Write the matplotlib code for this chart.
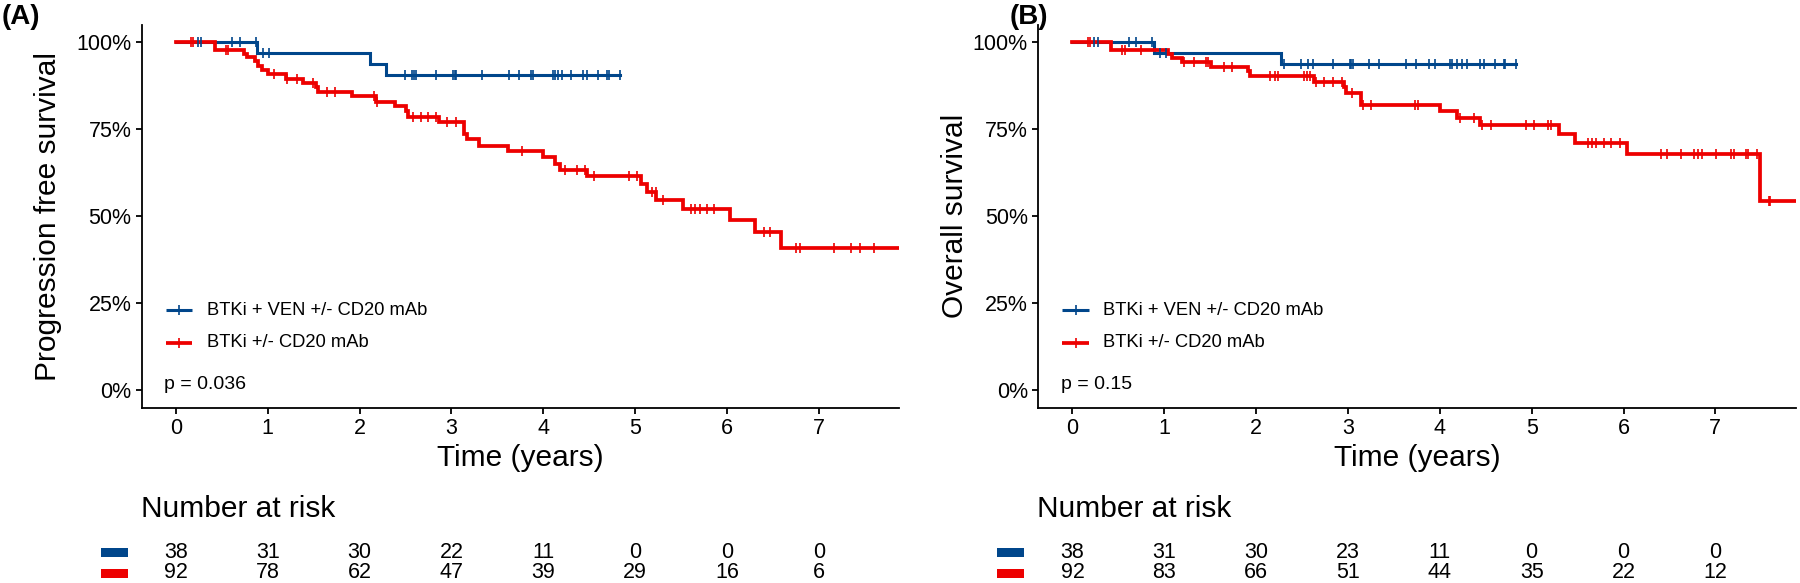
import numpy as np
import matplotlib
matplotlib.use('Agg')
import matplotlib.pyplot as plt
from matplotlib.patches import Rectangle
from matplotlib.transforms import blended_transform_factory

plt.rcParams['font.family'] = ['Liberation Sans', 'DejaVu Sans']

BLUE = '#00468B'
RED = '#ED0000'

group_names = ['BTKi + VEN +/- CD20 mAb', 'BTKi +/- CD20 mAb']
risk_times = [0, 1, 2, 3, 4, 5, 6, 7]

# panel A: progression free survival
pfs_ven_times = [0.88, 2.11, 2.285]
pfs_ven_surv = [0.970, 0.938, 0.906]
pfs_ven_end = 4.835
pfs_ven_cens = [0.236, 0.279, 0.609, 0.696, 0.870, 0.954, 1.016, 2.492, 2.568, 2.594,
                2.619, 2.829, 3.021, 3.036, 3.054, 3.333, 3.624, 3.736, 3.870, 3.892,
                4.106, 4.128, 4.160, 4.200, 4.298, 4.432, 4.479, 4.595, 4.690, 4.715, 4.835]

pfs_btk_times = [0.424, 0.744, 0.780, 0.860, 0.889, 0.936, 1.005, 1.197, 1.385, 1.523,
                 1.549, 1.923, 2.176, 2.386, 2.503, 2.532, 2.865, 3.138, 3.167, 3.301,
                 3.620, 3.995, 4.130, 4.186, 4.472, 5.067, 5.132, 5.227, 5.524, 6.039,
                 6.311, 6.591]
pfs_btk_surv = [0.977, 0.967, 0.957, 0.946, 0.933, 0.921, 0.909, 0.895, 0.884, 0.871,
                0.858, 0.845, 0.830, 0.816, 0.802, 0.786, 0.771, 0.738, 0.723, 0.703,
                0.687, 0.670, 0.651, 0.634, 0.615, 0.593, 0.571, 0.547, 0.521, 0.490,
                0.456, 0.409]
pfs_btk_end = 7.95
pfs_btk_cens = [0.17, 0.19, 0.544, 0.573, 1.07, 1.215, 1.324, 1.498, 1.65, 1.734, 2.158,
                2.195, 2.586, 2.666, 2.749, 2.829, 2.957, 3.047, 3.772, 4.237, 4.371,
                4.45, 4.552, 4.933, 5.016, 5.187, 5.223, 5.306, 5.604, 5.658, 5.702,
                5.785, 5.857, 6.402, 6.474, 6.757, 6.801, 7.171, 7.352, 7.446, 7.598]

pfs_risk_ven = [38, 31, 30, 22, 11, 0, 0, 0]
pfs_risk_btk = [92, 78, 62, 47, 39, 29, 16, 6]

# panel B: overall survival
os_ven_times = [0.888, 2.275]
os_ven_surv = [0.970, 0.938]
os_ven_end = 4.833
os_ven_cens = [0.235, 0.279, 0.613, 0.697, 0.867, 0.958, 1.016, 2.304, 2.493, 2.565,
               2.619, 2.837, 3.019, 3.037, 3.055, 3.226, 3.338, 3.628, 3.737, 3.879,
               3.952, 4.107, 4.133, 4.187, 4.242, 4.300, 4.434, 4.481, 4.597, 4.695,
               4.714, 4.833]

os_btk_times = [0.424, 1.041, 1.089, 1.197, 1.506, 1.912, 1.937, 2.631, 2.953, 2.975,
                3.146, 3.998, 4.187, 4.434, 5.297, 5.468, 6.042, 7.490]
os_btk_surv = [0.977, 0.966, 0.955, 0.943, 0.930, 0.917, 0.903, 0.887, 0.871, 0.855,
               0.819, 0.802, 0.783, 0.762, 0.738, 0.712, 0.680, 0.544]
os_btk_end = 7.95
os_btk_cens = [0.17, 0.19, 0.544, 0.569, 0.751, 1.212, 1.324, 1.459, 1.476, 1.647, 1.738,
               2.155, 2.202, 2.242, 2.518, 2.554, 2.591, 2.656, 2.743, 2.837, 2.932,
               3.048, 3.164, 3.247, 3.726, 3.762, 4.224, 4.372, 4.459, 4.554, 4.935,
               5.022, 5.178, 5.214, 5.613, 5.661, 5.704, 5.787, 5.868, 5.966, 6.412,
               6.477, 6.630, 6.767, 6.811, 6.858, 7.011, 7.174, 7.202, 7.337, 7.355,
               7.453, 7.580, 7.599]

os_risk_ven = [38, 31, 30, 23, 11, 0, 0, 0]
os_risk_btk = [92, 83, 66, 51, 44, 35, 22, 12]

W, H = 1800, 583


def surv_at(times, surv, t):
    idx = np.searchsorted(np.array(times), t, side='right')
    vals = np.r_[1.0, surv]
    return vals[idx]


def draw_curve(ax, times, surv, end, cens, color, lw):
    x = np.r_[0, times, end]
    y = np.r_[1.0, surv, surv[-1]]
    ax.step(x, y, where='post', color=color, lw=lw, solid_joinstyle='miter', zorder=3)
    cens = np.array(cens)
    ax.plot(cens, surv_at(times, surv, cens), ls='none', marker='|', ms=7.5,
            mew=1.2, color=color, zorder=4)


def km_panel(fig, spine_px, letter_px, letter, ylabel, ylab_x, pval, ven, btk, risk_ven, risk_btk):
    ax = fig.add_axes([spine_px / W, 1 - 407.7 / H, 757.4 / W, 382.7 / H])
    draw_curve(ax, *ven, BLUE, 2.2)
    draw_curve(ax, *btk, RED, 2.7)

    ax.set_xlim(-0.372, 7.875)
    ax.set_ylim(-0.05, 1.05)
    ax.set_xticks(risk_times)
    ax.set_yticks([0, 0.25, 0.5, 0.75, 1.0])
    ax.set_yticklabels(['0%', '25%', '50%', '75%', '100%'])
    for s in ['top', 'right']:
        ax.spines[s].set_visible(False)
    for s in ['left', 'bottom']:
        ax.spines[s].set_linewidth(1.3)
    ax.tick_params(labelsize=15.5, width=1.3, length=4.5, pad=3)
    ax.set_xlabel('Time (years)', fontsize=21.5, va='center')
    ax.xaxis.set_label_coords(0.5, -0.131)
    ax.set_ylabel(ylabel, fontsize=21.5, va='center')
    ax.yaxis.set_label_coords(ylab_x, 0.5)

    # legend inside the panel
    for yy, color, lw, name in [(0.23, BLUE, 2.2, group_names[0]), (0.137, RED, 2.7, group_names[1])]:
        ax.plot([-0.11, 0.18], [yy, yy], color=color, lw=lw, solid_capstyle='butt')
        ax.plot([0.035], [yy], marker='|', ms=7.5, mew=1.2, color=color)
        ax.text(0.337, yy, name, fontsize=13.2, va='center', ha='left')
    ax.text(-0.127, 0.017, pval, fontsize=14, va='center', ha='left')

    fig.text(letter_px / W, 1 - 17 / H, letter, fontsize=20, fontweight='bold', ha='left', va='center')

    # risk table
    fig.text((spine_px - 1) / W, 1 - 509 / H, 'Number at risk', fontsize=21.5, ha='left', va='center')
    trans = blended_transform_factory(ax.transData, fig.transFigure)
    for row_y, counts, color in [(552, risk_ven, BLUE), (573, risk_btk, RED)]:
        for t, n in zip(risk_times, counts):
            ax.text(t, 1 - row_y / H, str(n), fontsize=15.5, ha='center', va='center',
                    transform=trans, clip_on=False)
        fig.add_artist(Rectangle(((spine_px - 41) / W, 1 - (row_y + 4.5) / H), 27 / W, 9 / H,
                                 transform=fig.transFigure, color=color, lw=0))
    return ax


if __name__ == '__main__':
    fig = plt.figure(figsize=(W / 100, H / 100), dpi=100)
    km_panel(fig, 141.7, 2, '(A)', 'Progression free survival', -0.124, 'p = 0.036',
             (pfs_ven_times, pfs_ven_surv, pfs_ven_end, pfs_ven_cens),
             (pfs_btk_times, pfs_btk_surv, pfs_btk_end, pfs_btk_cens),
             pfs_risk_ven, pfs_risk_btk)
    km_panel(fig, 1038.3, 1010, '(B)', 'Overall survival', -0.110, 'p = 0.15',
             (os_ven_times, os_ven_surv, os_ven_end, os_ven_cens),
             (os_btk_times, os_btk_surv, os_btk_end, os_btk_cens),
             os_risk_ven, os_risk_btk)
    fig.savefig('out.png', dpi=100)
